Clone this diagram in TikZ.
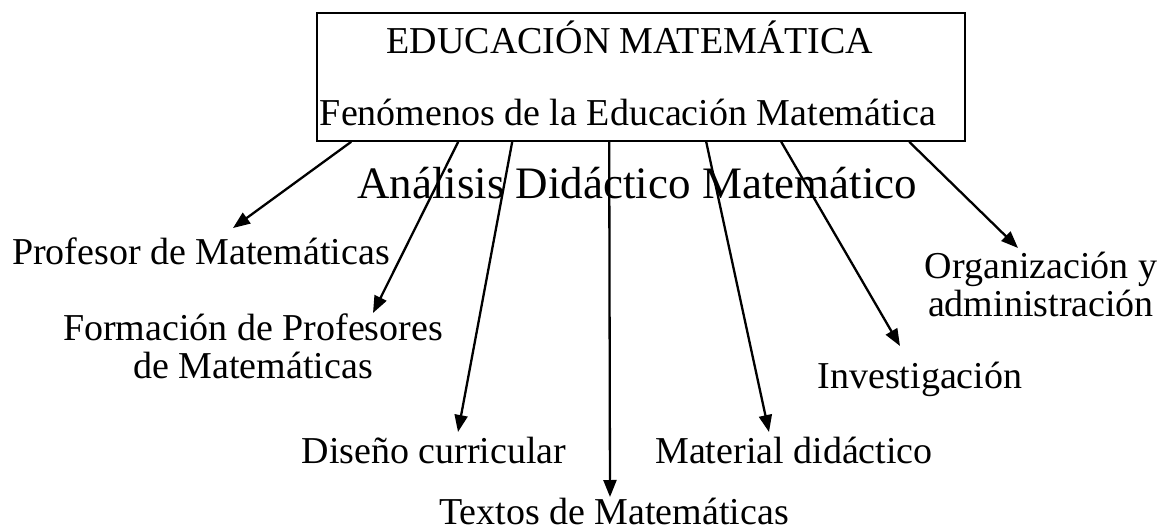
\documentclass[tikz,border=0pt]{standalone}
\usepackage{fontspec}
\setmainfont{Liberation Serif}
\usetikzlibrary{arrows.meta,calc}
\begin{document}
\begin{tikzpicture}[x=1pt,y=-1pt,
  lbl/.style={inner sep=0pt,anchor=base,font=\fontsize{38}{38}\selectfont},
  lbltwo/.style={inner sep=0pt,anchor=base,align=center,font=\fontsize{38}{38}\selectfont},
  conn/.style={line width=2.3pt,-{Triangle[length=17pt,width=13pt]}},
  boxst/.style={draw,line width=1.6pt,minimum width=648pt,minimum height=128pt,inner sep=0pt}]
\useasboundingbox (0,0) rectangle (1160,530);
\node[boxst] (box) at (641,77) {};
\node[lbl] (t1) at (630,53) {EDUCACIÓN MATEMÁTICA};
\node[lbl] (t2) at (628,125) {Fenómenos de la Educación Matemática};
\node[lbl,font=\fontsize{45}{45}\selectfont] (ana) at (637,198) {Análisis Didáctico Matemático};
\node[lbl] (prof) at (201,264) {Profesor de Matemáticas};
\node[lbltwo] (form) at (253,378) {Formación de Profesores\\de Matemáticas};
\node[lbl] (dis) at (434,463) {Diseño curricular};
\node[lbl,text depth=0pt] (tex) at (614,524) {Textos de Matemáticas};
\node[lbl] (mat) at (794,463) {Material didáctico};
\node[lbl] (inv) at (920,388) {Investigación};
\node[lbltwo] (org) at (1041,316) {Organización y\\administración};
\coordinate (e1) at (233,228);
\coordinate (e2) at (373,313);
\coordinate (e3) at (458,432);
\coordinate (e4) at (610,497);
\coordinate (e5) at (769,432);
\coordinate (e6) at (900,346);
\coordinate (e7) at (1018,248);
\draw[conn] ($(box.south west)+(35,0)$) -- (e1);
\draw[conn] ($(box.south west)+(142,0)$) -- (e2);
\draw[conn] ($(box.south west)+(196,0)$) -- (e3);
\draw[conn] ($(box.south west)+(293,0)$) -- (e4);
\draw[conn] ($(box.south west)+(390,0)$) -- (e5);
\draw[conn] ($(box.south west)+(465,0)$) -- (e6);
\draw[conn] ($(box.south west)+(593,0)$) -- (e7);
\end{tikzpicture}
\end{document}
